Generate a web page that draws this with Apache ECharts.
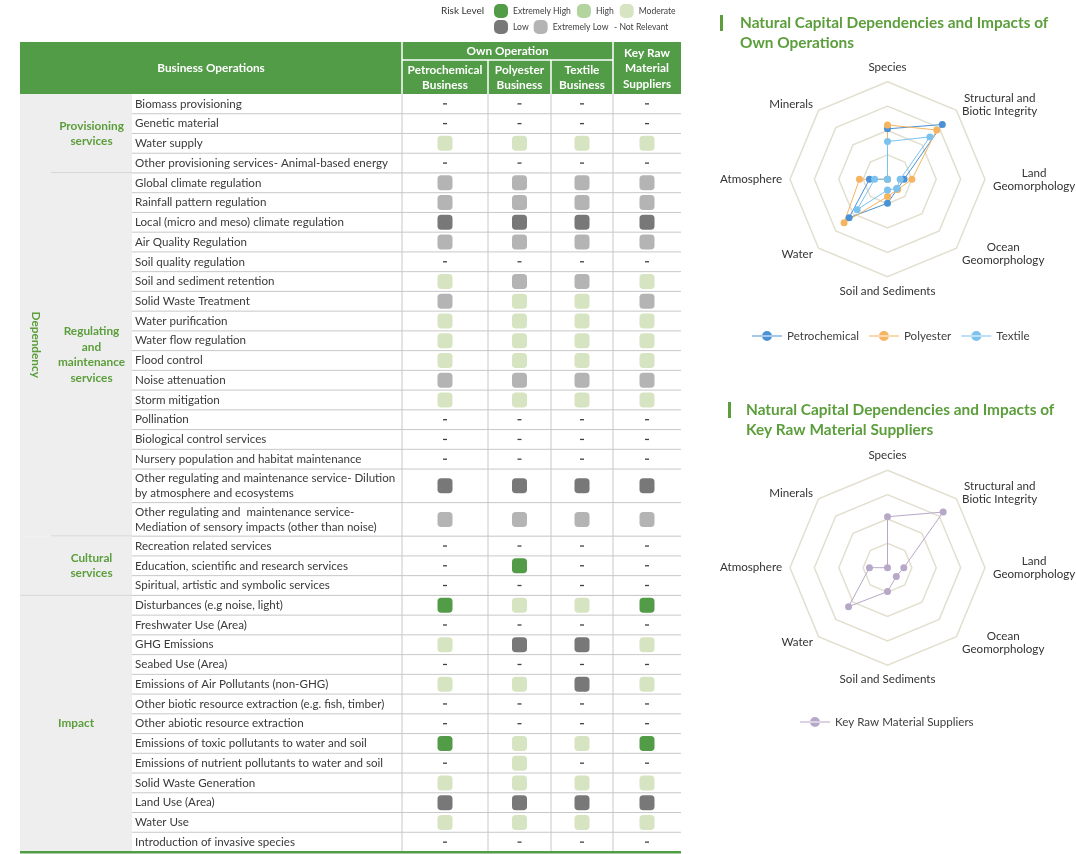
<!DOCTYPE html>
<html>
<head>
<meta charset="utf-8">
<title>Natural Capital Dependencies and Impacts</title>
<script src="https://cdn.jsdelivr.net/npm/echarts@6/dist/echarts.min.js"></script>
<style>
html, body { margin: 0; padding: 0; background: #fff; }
#chart { width: 1076px; height: 854px; }
</style>
</head>
<body>
<div id="chart"></div>
<script>
// risk codes: EH extremely high, H high, M moderate, L low, EL extremely low, '-' not relevant
var riskLevels = ['Extremely High', 'High', 'Moderate', 'Low', 'Extremely Low'];
var riskCodes = ['EH', 'H', 'M', 'L', 'EL'];
var riskColors = ['#529b47', '#b4d49f', '#d7e4c2', '#787878', '#b4b4b4'];

var groupNames = ['Provisioning\nservices', 'Regulating\nand\nmaintenance\nservices', 'Cultural\nservices', 'Impact'];
var groupSections = ['Dependency', 'Dependency', 'Dependency', 'Impact'];

var provisioningItems = [
  'Biomass provisioning',
  'Genetic material',
  'Water supply',
  'Other provisioning services- Animal-based energy'
];
var regulatingItems = [
  'Global climate regulation',
  'Rainfall pattern regulation',
  'Local (micro and meso) climate regulation',
  'Air Quality Regulation',
  'Soil quality regulation',
  'Soil and sediment retention',
  'Solid Waste Treatment',
  'Water purification',
  'Water flow regulation',
  'Flood control',
  'Noise attenuation',
  'Storm mitigation',
  'Pollination',
  'Biological control services',
  'Nursery population and habitat maintenance',
  'Other regulating and maintenance service- Dilution\nby atmosphere and ecosystems',
  'Other regulating and  maintenance service-\nMediation of sensory impacts (other than noise)'
];
var culturalItems = [
  'Recreation related services',
  'Education, scientific and research services',
  'Spiritual, artistic and symbolic services'
];
var impactItems = [
  'Disturbances (e.g noise, light)',
  'Freshwater Use (Area)',
  'GHG Emissions',
  'Seabed Use (Area)',
  'Emissions of Air Pollutants (non-GHG)',
  'Other biotic resource extraction (e.g. fish, timber)',
  'Other abiotic resource extraction',
  'Emissions of toxic pollutants to water and soil',
  'Emissions of nutrient pollutants to water and soil',
  'Solid Waste Generation',
  'Land Use (Area)',
  'Water Use',
  'Introduction of invasive species'
];

var columnNames = ['Petrochemical\nBusiness', 'Polyester\nBusiness', 'Textile\nBusiness', 'Key Raw\nMaterial\nSuppliers'];

var petrochemicalRisk = [
  '-', '-', 'M', '-',
  'EL', 'EL', 'L', 'EL', '-', 'M', 'EL', 'M', 'M', 'M', 'EL', 'M', '-', '-', '-', 'L', 'EL',
  '-', '-', '-',
  'EH', '-', 'M', '-', 'M', '-', '-', 'EH', '-', 'M', 'L', 'M', '-'
];
var polyesterRisk = [
  '-', '-', 'M', '-',
  'EL', 'EL', 'L', 'EL', '-', 'EL', 'M', 'M', 'M', 'M', 'EL', 'M', '-', '-', '-', 'L', 'EL',
  '-', 'EH', '-',
  'M', '-', 'L', '-', 'M', '-', '-', 'M', 'M', 'M', 'L', 'M', '-'
];
var textileRisk = [
  '-', '-', 'M', '-',
  'EL', 'EL', 'L', 'EL', '-', 'EL', 'M', 'M', 'M', 'M', 'EL', 'M', '-', '-', '-', 'L', 'EL',
  '-', '-', '-',
  'M', '-', 'L', '-', 'L', '-', '-', 'M', '-', 'M', 'L', 'M', '-'
];
var supplierRisk = [
  '-', '-', 'M', '-',
  'EL', 'EL', 'L', 'EL', '-', 'M', 'EL', 'M', 'M', 'M', 'EL', 'M', '-', '-', '-', 'L', 'EL',
  '-', '-', '-',
  'EH', '-', 'M', '-', 'M', '-', '-', 'EH', '-', 'M', 'L', 'M', '-'
];

// radar axes in clockwise order from the top
var radarAxes = ['Species', 'Structural and\nBiotic Integrity', 'Land\nGeomorphology', 'Ocean\nGeomorphology',
  'Soil and Sediments', 'Water', 'Atmosphere', 'Minerals'];
var radarMax = 4;
var petrochemicalScore = [2.07, 3.18, 0.68, 0.57, 0.98, 2.23, 0.74, 0];
var polyesterScore = [2.23, 2.86, 1.0, 0.59, 0.71, 2.52, 1.15, 0];
var textileScore = [1.55, 2.46, 0.52, 0.53, 0.44, 1.76, 0.53, 0];
var supplierScore = [2.09, 3.23, 0.67, 0.51, 0.98, 2.26, 0.74, 0];

// ---- layout ----
var FONT = 'Lato, "Open Sans", "Noto Sans", sans-serif';
var GREEN = '#529b47';
var LABEL_GREEN = '#5b9e3b';
var colEdges = [20, 51, 132, 402, 488, 551, 613, 681];
var headTop = 42, headMid = 60, bodyTop = 94, bodyBottom = 852;

var riskColumns = [petrochemicalRisk, polyesterRisk, textileRisk, supplierRisk];
var groupItems = [provisioningItems, regulatingItems, culturalItems, impactItems];

var rows = [];
var groups = [];
var pos = 0;
groupItems.forEach(function (list, g) {
  var start = pos;
  list.forEach(function (name, k) {
    var h = name.indexOf('\n') >= 0 ? 1.7 : 1;
    rows.push({ start: pos, end: pos + h, name: name, group: g, last: k === list.length - 1 });
    pos += h;
  });
  groups.push({ start: start, end: pos, group: g });
});
var totalUnits = pos;

var sections = [];
groups.forEach(function (gr) {
  var s = groupSections[gr.group];
  if (s === groupNames[gr.group]) return;
  var cur = sections[sections.length - 1];
  if (cur && cur.name === s) cur.end = gr.end;
  else sections.push({ name: s, start: gr.start, end: gr.end });
});

function colCenter(c) {
  return (colEdges[c + 3] + colEdges[c + 4]) / 2;
}
function cellsFor(code) {
  var out = [];
  riskColumns.forEach(function (col, c) {
    col.forEach(function (v, i) {
      if (v === code) out.push([colCenter(c), (rows[i].start + rows[i].end) / 2]);
    });
  });
  return out;
}

var chart = echarts.init(document.getElementById('chart'));

var series = [];

// group column background, labels and separators
series.push({
  type: 'custom',
  silent: true,
  z: 1,
  data: groups.map(function (g) { return [colEdges[0], g.start, g.end]; }),
  encode: { x: 0, y: [1, 2] },
  renderItem: function (params, api) {
    var g = groups[params.dataIndex];
    var top = api.coord([colEdges[0], g.start])[1];
    var bottom = api.coord([colEdges[0], g.end])[1];
    var merged = groupSections[g.group] === groupNames[g.group];
    var lx0 = merged ? colEdges[0] : colEdges[1];
    var children = [
      { type: 'rect', shape: { x: colEdges[0], y: top, width: colEdges[2] - colEdges[0], height: bottom - top },
        style: { fill: '#eeeeee' } },
      { type: 'text', style: {
        x: (lx0 + colEdges[2]) / 2, y: (top + bottom) / 2, text: groupNames[g.group],
        align: 'center', verticalAlign: 'middle', fill: LABEL_GREEN,
        font: 'bold 11.8px ' + FONT, lineHeight: 15.5 } }
    ];
    var next = groups[params.dataIndex + 1];
    if (next) {
      var startX = groupSections[next.group] !== groupSections[g.group] ? colEdges[0] : colEdges[1];
      children.push({ type: 'line', shape: { x1: startX, y1: bottom, x2: colEdges[7], y2: bottom },
        style: { stroke: '#c4c4c4', lineWidth: 1 } });
    }
    return { type: 'group', children: children };
  }
});

// section label (rotated)
series.push({
  type: 'custom',
  silent: true,
  z: 2,
  data: sections.map(function (s) { return [colEdges[0], s.start, s.end]; }),
  encode: { x: 0, y: [1, 2] },
  renderItem: function (params, api) {
    var s = sections[params.dataIndex];
    var top = api.coord([colEdges[0], s.start])[1];
    var bottom = api.coord([colEdges[0], s.end])[1];
    return {
      type: 'text',
      x: (colEdges[0] + colEdges[1]) / 2,
      y: (top + bottom) / 2,
      rotation: -Math.PI / 2,
      style: { x: 0, y: 0, text: s.name, align: 'center', verticalAlign: 'middle',
        fill: LABEL_GREEN, font: 'bold 11.8px ' + FONT }
    };
  }
});

// item rows: names, row lines, column lines
series.push({
  type: 'custom',
  silent: true,
  z: 1,
  data: rows.map(function (r) { return [colEdges[2], r.start, r.end]; }),
  encode: { x: 0, y: [1, 2] },
  renderItem: function (params, api) {
    var r = rows[params.dataIndex];
    var top = api.coord([colEdges[2], r.start])[1];
    var bottom = api.coord([colEdges[2], r.end])[1];
    var children = [
      { type: 'text', style: { x: colEdges[2] + 3, y: (top + bottom) / 2, text: r.name,
        verticalAlign: 'middle', fill: '#3a3a3a', font: '11.6px ' + FONT, lineHeight: 15 } }
    ];
    if (!r.last) {
      children.push({ type: 'line', shape: { x1: colEdges[2], y1: bottom, x2: colEdges[7], y2: bottom },
        style: { stroke: '#c8c8c8', lineWidth: 1 } });
    }
    for (var c = 3; c <= 6; c++) {
      children.push({ type: 'line', shape: { x1: colEdges[c], y1: top, x2: colEdges[c], y2: bottom },
        style: { stroke: '#c8c8c8', lineWidth: 1 } });
    }
    return { type: 'group', children: children };
  }
});

riskCodes.forEach(function (code, k) {
  series.push({
    name: riskLevels[k],
    type: 'scatter',
    z: 5,
    symbol: 'roundRect',
    symbolSize: [15, 15],
    itemStyle: { color: riskColors[k], opacity: 1 },
    silent: true,
    data: cellsFor(code)
  });
});
series.push({
  name: 'Not Relevant',
  type: 'scatter',
  z: 5,
  symbol: 'rect',
  symbolSize: [4, 1.3],
  itemStyle: { color: '#404040', opacity: 1 },
  silent: true,
  data: cellsFor('-')
});

// radar series
function radarOrder(arr) {
  // echarts lays indicators out counter-clockwise; flip to clockwise
  var out = [arr[0]];
  for (var i = arr.length - 1; i >= 1; i--) out.push(arr[i]);
  return out;
}
var radarSeries = [
  { name: 'Petrochemical', values: petrochemicalScore, color: '#4b92d5', radar: 0 },
  { name: 'Polyester', values: polyesterScore, color: '#f6b461', radar: 0 },
  { name: 'Textile', values: textileScore, color: '#7cc2ef', radar: 0 },
  { name: 'Key Raw Material Suppliers', values: supplierScore, color: '#b7a8c8', radar: 1 }
];
radarSeries.forEach(function (s) {
  series.push({
    name: s.name,
    type: 'radar',
    radarIndex: s.radar,
    symbol: 'circle',
    symbolSize: 7,
    itemStyle: { color: s.color, opacity: 1 },
    lineStyle: { color: s.color, width: 1 },
    z: 3,
    data: [{ name: s.name, value: radarOrder(s.values) }]
  });
});

function radarConfig(cy) {
  return {
    center: [887.5, cy],
    radius: 97.5,
    startAngle: 90,
    splitNumber: 4,
    shape: 'polygon',
    nameGap: 8,
    axisName: {
      formatter: function (name) {
        return name.split('\n').map(function (l) { return '{c|' + l + '}'; }).join('\n');
      },
      rich: { c: { align: 'center', color: '#333', fontSize: 11.6, fontFamily: FONT, lineHeight: 13 } }
    },
    splitLine: { lineStyle: { color: '#e2dfcf', width: 1.5 } },
    splitArea: { show: false },
    axisLine: { show: false },
    axisTick: { show: false },
    axisLabel: { show: false },
    indicator: radarOrder(radarAxes).map(function (n) { return { name: n, min: 0, max: radarMax }; })
  };
}

var lineIcon = 'path://M0,4.5H30V5.5H0Z M10,5A5,5,0,1,0,20,5A5,5,0,1,0,10,5Z';
var roundIcon = 'path://M5,0H9A5,5,0,0,1,14,5V9A5,5,0,0,1,9,14H5A5,5,0,0,1,0,9V5A5,5,0,0,1,5,0Z';

// header graphic
var header = [
  { type: 'rect', shape: { x: colEdges[0], y: headTop, width: colEdges[7] - colEdges[0], height: bodyTop - headTop },
    style: { fill: GREEN } },
  { type: 'line', shape: { x1: colEdges[3], y1: headMid, x2: colEdges[6], y2: headMid }, style: { stroke: '#fff', lineWidth: 1.5 } },
  { type: 'line', shape: { x1: colEdges[3], y1: headTop, x2: colEdges[3], y2: bodyTop }, style: { stroke: '#fff', lineWidth: 1.5 } },
  { type: 'line', shape: { x1: colEdges[4], y1: headMid, x2: colEdges[4], y2: bodyTop }, style: { stroke: '#fff', lineWidth: 1.5 } },
  { type: 'line', shape: { x1: colEdges[5], y1: headMid, x2: colEdges[5], y2: bodyTop }, style: { stroke: '#fff', lineWidth: 1.5 } },
  { type: 'line', shape: { x1: colEdges[6], y1: headTop, x2: colEdges[6], y2: bodyTop }, style: { stroke: '#fff', lineWidth: 1.5 } },
  { type: 'text', style: { x: (colEdges[0] + colEdges[3]) / 2, y: (headTop + bodyTop) / 2, text: 'Business Operations',
    align: 'center', verticalAlign: 'middle', fill: '#fff', font: 'bold 11.8px ' + FONT } },
  { type: 'text', style: { x: (colEdges[3] + colEdges[6]) / 2, y: (headTop + headMid) / 2, text: 'Own Operation',
    align: 'center', verticalAlign: 'middle', fill: '#fff', font: 'bold 11.8px ' + FONT } },
  { type: 'rect', shape: { x: colEdges[0], y: bodyBottom - 1, width: colEdges[7] - colEdges[0], height: 2.5 },
    style: { fill: GREEN }, z: 10 }
];
columnNames.forEach(function (n, c) {
  var top = c === 3 ? headTop : headMid;
  header.push({ type: 'text', style: { x: colCenter(c), y: (top + bodyTop) / 2 + 0.5, text: n,
    align: 'center', verticalAlign: 'middle', fill: '#fff', font: 'bold 11.8px ' + FONT, lineHeight: 15.5 } });
});
header.push(
  { type: 'text', style: { x: 441, y: 11, text: 'Risk Level', verticalAlign: 'middle', fill: '#333', font: '10px ' + FONT } },
  { type: 'text', style: { x: 614, y: 27, text: '- Not Relevant', verticalAlign: 'middle', fill: '#404040', font: '8.6px ' + FONT } },
  { type: 'rect', shape: { x: 720, y: 15, width: 3, height: 16 }, style: { fill: LABEL_GREEN } },
  { type: 'text', style: { x: 740, y: 13, text: 'Natural Capital Dependencies and Impacts of\nOwn Operations',
    fill: LABEL_GREEN, font: 'bold 15.4px ' + FONT, lineHeight: 20 } },
  { type: 'rect', shape: { x: 728, y: 402, width: 3, height: 16 }, style: { fill: LABEL_GREEN } },
  { type: 'text', style: { x: 746, y: 400, text: 'Natural Capital Dependencies and Impacts of\nKey Raw Material Suppliers',
    fill: LABEL_GREEN, font: 'bold 15.4px ' + FONT, lineHeight: 20 } }
);

var riskLegendText = { fontSize: 8.6, color: '#404040', fontFamily: FONT };
var radarLegendText = { fontSize: 11.6, color: '#404040', fontFamily: FONT };

var option = {
  backgroundColor: '#fff',
  animation: false,
  textStyle: { fontFamily: FONT },
  grid: { left: colEdges[0], width: colEdges[7] - colEdges[0], top: bodyTop, height: bodyBottom - bodyTop },
  xAxis: { type: 'value', min: colEdges[0], max: colEdges[7], show: false },
  yAxis: { type: 'value', min: 0, max: totalUnits, inverse: true, show: false },
  radar: [radarConfig(179.3), radarConfig(567.7)],
  legend: [
    { data: riskLevels.slice(0, 3), left: 494, top: 4, padding: 0, icon: roundIcon,
      itemWidth: 14, itemHeight: 14, itemGap: 6, selectedMode: false, textStyle: riskLegendText },
    { data: riskLevels.slice(3), left: 494, top: 20, padding: 0, icon: roundIcon,
      itemWidth: 14, itemHeight: 14, itemGap: 5, selectedMode: false, textStyle: riskLegendText },
    { data: ['Petrochemical', 'Polyester', 'Textile'], left: 752, top: 330, padding: 0, icon: lineIcon,
      itemWidth: 30, itemHeight: 10, itemGap: 10, textStyle: radarLegendText },
    { data: ['Key Raw Material Suppliers'], left: 800, top: 716, padding: 0, icon: lineIcon,
      itemWidth: 30, itemHeight: 10, textStyle: radarLegendText }
  ],
  graphic: header,
  series: series
};

chart.setOption(option);
</script>
</body>
</html>
